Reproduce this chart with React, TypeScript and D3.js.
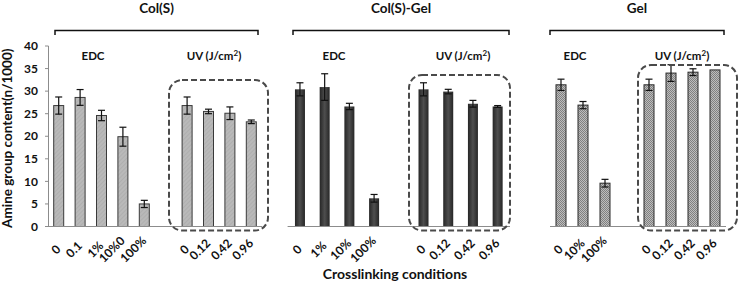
import React from "react";
import * as d3 from "d3";

// ---- data ----
const colS_edc_labels = ["0", "0.1", "1%", "10%0", "100%"];
const colS_edc_values = [26.8, 28.6, 24.6, 19.9, 5.0];
const colS_edc_err = [1.9, 1.75, 1.15, 2.1, 0.8];
const uv_labels = ["0", "0.12", "0.42", "0.96"];
const colS_uv_values = [26.8, 25.5, 25.1, 23.2];
const colS_uv_err = [1.9, 0.5, 1.4, 0.4];

const colSGel_edc_labels = ["0", "1%", "10%", "100%"];
const colSGel_edc_values = [30.4, 30.9, 26.6, 6.25];
const colSGel_edc_err = [1.45, 2.95, 0.7, 0.85];
const colSGel_uv_values = [30.4, 29.9, 27.2, 26.6];
const colSGel_uv_err = [1.45, 0.5, 0.75, 0.2];

const gel_edc_labels = ["0", "10%", "100%"];
const gel_edc_values = [31.4, 26.9, 9.6];
const gel_edc_err = [1.25, 0.8, 0.85];
const gel_uv_values = [31.4, 34.0, 34.2, 34.7];
const gel_uv_err = [1.25, 1.85, 0.75, 0];

const yTicks = [0, 5, 10, 15, 20, 25, 30, 35, 40];
const panelTitles = ["Col(S)", "Col(S)-Gel", "Gel"];

const FONT = "Lato, 'Open Sans', sans-serif";
const TICK_FS = 12;

type Bar = { key: string; label: string; value: number; err: number };
type Panel = {
  title: string;
  bars: Bar[];
  slots: string[];
  range: [number, number];
  fill: string;
  stroke: string;
  bracket: [number, number];
  edcX: number;
  uvX: number;
  box: { x0: number; x1: number; top: number };
};

function buildBars(prefix: string, labels: string[], values: number[], errs: number[]): Bar[] {
  return labels.map((l, i) => ({ key: prefix + i, label: l, value: values[i], err: errs[i] }));
}

let ctx: CanvasRenderingContext2D | null = null;
function textLen(s: string): number {
  try {
    if (!ctx) ctx = document.createElement("canvas").getContext("2d");
    if (ctx) {
      ctx.font = `bold ${TICK_FS}px Lato`;
      return ctx.measureText(s).width;
    }
  } catch (e) {}
  return s.length * TICK_FS * 0.55;
}

const y = d3.scaleLinear().domain([0, 40]).range([226.5, 46]);

function makePanel(
  title: string,
  edcL: string[], edcV: number[], edcE: number[],
  uvV: number[], uvE: number[],
  range: [number, number], fill: string, stroke: string,
  bracket: [number, number], edcX: number, uvX: number,
  box: { x0: number; x1: number; top: number }
): Panel {
  const edc = buildBars(title + "e", edcL, edcV, edcE);
  const uv = buildBars(title + "u", uv_labels, uvV, uvE);
  const slots = [...edc.map((b) => b.key), title + "gap", ...uv.map((b) => b.key)];
  return { title, bars: [...edc, ...uv], slots, range, fill, stroke, bracket, edcX, uvX, box };
}

const panels: Panel[] = [
  makePanel(panelTitles[0], colS_edc_labels, colS_edc_values, colS_edc_err, colS_uv_values, colS_uv_err,
    [48, 262], "url(#hatch)", "#3a3a3a", [55, 258], 93, 214, { x0: 169, x1: 268, top: 80 }),
  makePanel(panelTitles[1], colSGel_edc_labels, colSGel_edc_values, colSGel_edc_err, colSGel_uv_values, colSGel_uv_err,
    [287.6, 510], "url(#darkgrad)", "none", [293, 509], 334, 463, { x0: 409, x1: 510, top: 75 }),
  makePanel(panelTitles[2], gel_edc_labels, gel_edc_values, gel_edc_err, gel_uv_values, gel_uv_err,
    [550, 726], "url(#checker)", "#2a2a2a", [550, 724], 575, 682, { x0: 638, x1: 737, top: 65 }),
];

export default function App() {
  const barW = 10;
  const base = y(0);
  return (
    <svg width={738} height={285} style={{ position: "absolute", left: 0, top: 0, background: "#fff" }}
      fontFamily={FONT} fontWeight="bold">
      <defs>
        <pattern id="hatch" width="3" height="3" patternUnits="userSpaceOnUse" patternTransform="rotate(45)">
          <rect width="3" height="3" fill="#b9b9b9" />
          <line x1="0" y1="0" x2="0" y2="3" stroke="#a6a6a6" strokeWidth="1" />
        </pattern>
        <linearGradient id="darkgrad" x1="0" x2="1" y1="0" y2="0">
          <stop offset="0" stopColor="#262626" />
          <stop offset="0.5" stopColor="#4e4e4e" />
          <stop offset="1" stopColor="#262626" />
        </linearGradient>
        <pattern id="checker" width="2" height="2" patternUnits="userSpaceOnUse">
          <rect width="2" height="2" fill="#bdbdbd" />
          <rect width="1" height="1" fill="#808080" />
          <rect x="1" y="1" width="1" height="1" fill="#808080" />
        </pattern>
      </defs>

      {/* y axis */}
      <line x1={48.5} x2={48.5} y1={y(40)} y2={base} stroke="#8c8c8c" strokeWidth={1} />
      {yTicks.map((t) => (
        <g key={t}>
          <line x1={45} x2={48.5} y1={y(t)} y2={y(t)} stroke="#8c8c8c" />
          <text x={38} y={y(t)} dy="0.35em" textAnchor="end" fontSize={12} fill="#111">{t}</text>
        </g>
      ))}
      <text transform={`translate(12,${(y(40) + base) / 2 + 2}) rotate(-90)`} textAnchor="middle" fontSize={13.5} fill="#111">
        Amine group content(n/1000)
      </text>

      {panels.map((p) => {
        const x = d3.scaleBand<string>().domain(p.slots).range(p.range).padding(0);
        const cx = (k: string) => (x(k) as number) + x.bandwidth() / 2;
        const midTitle = (p.bracket[0] + p.bracket[1]) / 2;
        return (
          <g key={p.title}>
            <text x={midTitle} y={13} textAnchor="middle" fontSize={13.5} fill="#111">{p.title}</text>
            <path d={`M${p.bracket[0]},35V30.5H${p.bracket[1]}V35`} fill="none" stroke="#111" strokeWidth={1.5} />
            <text x={p.edcX} y={60} textAnchor="middle" fontSize={11.5} fill="#111">EDC</text>
            <text x={p.uvX} y={60} textAnchor="middle" fontSize={11.5} fill="#111">
              UV (J/cm<tspan fontSize={8} dy={-4}>2</tspan><tspan dy={4}>)</tspan>
            </text>
            {p.bars.map((b) => {
              const c = cx(b.key);
              const half = ((textLen(b.label) + 9) * 0.7071) / 2;
              return (
                <g key={b.key}>
                  <rect x={c - barW / 2} y={y(b.value)} width={barW} height={base - y(b.value)}
                    fill={p.fill} stroke={p.stroke} strokeWidth={1} />
                  {b.err > 0 && (
                    <g stroke="#111" strokeWidth={1.2}>
                      <line x1={c} x2={c} y1={y(b.value + b.err)} y2={y(b.value - b.err)} />
                      <line x1={c - 3.5} x2={c + 3.5} y1={y(b.value + b.err)} y2={y(b.value + b.err)} />
                      <line x1={c - 3.5} x2={c + 3.5} y1={y(b.value - b.err)} y2={y(b.value - b.err)} />
                    </g>
                  )}
                  <text transform={`translate(${c + 3 - half},${base + 23}) rotate(-45)`} textAnchor="middle"
                    dy="0.35em" fontSize={TICK_FS} fill="#111">
                    {b.label}
                  </text>
                </g>
              );
            })}
            <line x1={p.range[0]} x2={p.range[1]} y1={base} y2={base} stroke="#8c8c8c" strokeWidth={1.2} />
            <rect x={p.box.x0} y={p.box.top} width={p.box.x1 - p.box.x0} height={base + 4 - p.box.top}
              rx={13} ry={13} fill="none" stroke="#4a4a4a" strokeWidth={2} strokeDasharray="6,3" />
          </g>
        );
      })}

      <text x={395} y={279} textAnchor="middle" fontSize={14} fill="#111">Crosslinking conditions</text>
    </svg>
  );
}
